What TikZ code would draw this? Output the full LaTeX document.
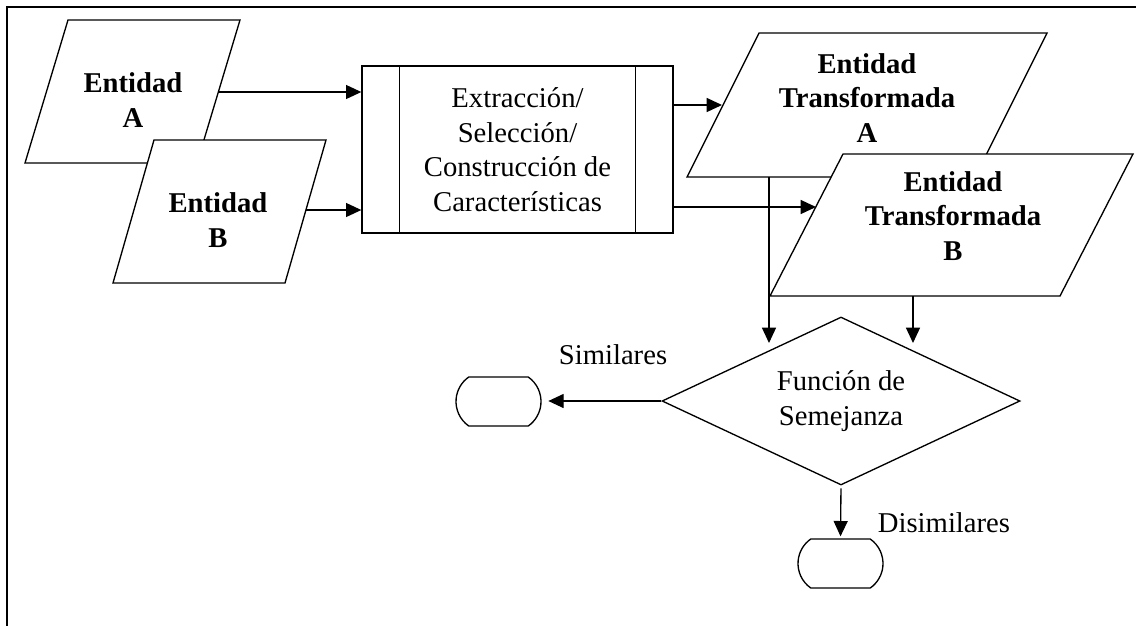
\documentclass[tikz,border=0pt]{standalone}
\usepackage{fontspec}
\setmainfont{Liberation Serif}
\usetikzlibrary{shapes.geometric,shapes.misc,arrows.meta}
\begin{document}
\begin{tikzpicture}[x=0.75pt,y=-0.75pt,
  shapeline/.style={draw=black,line width=1pt,fill=white},
  plain/.style={draw=black,line width=1pt},
  conn/.style={draw=black,line width=1pt,-{Triangle[length=11.5pt,width=10.5pt]}},
  boldtxt/.style={font=\fontsize{21.5}{26}\selectfont\bfseries,align=center,inner sep=0pt},
  normtxt/.style={font=\fontsize{21.5}{26}\selectfont,align=center,inner sep=0pt},
  terminal/.style={rounded rectangle,rounded rectangle arc length=110,draw=black,
    line width=1pt,minimum width=63.75pt,minimum height=36.75pt,inner sep=0pt},
]
\useasboundingbox (0,0) rectangle (1136,626);
% page frame (top and left edges)
\draw[line width=1.5pt] (1136,6.5) -- (6.5,6.5) -- (6.5,626);

% input entities
\draw[shapeline] (68,20) -- (240,20) -- (197,163) -- (25,163) -- cycle;
\node[boldtxt] (entA) at (133,100) {Entidad\\A};
\draw[shapeline] (154,140) -- (326,140) -- (285,283) -- (113,283) -- cycle;
\node[boldtxt] (entB) at (218,220) {Entidad\\B};

% feature process
\node[draw=black,line width=1pt,minimum width=233.25pt,minimum height=125.25pt,normtxt]
  (proc) at (517.5,149.5) {Extracción/\\Selección/\\Construcción de\\Características};
\draw[plain] ([xshift=28.5pt]proc.north west) -- ([xshift=28.5pt]proc.south west);
\draw[plain] ([xshift=-28.5pt]proc.north east) -- ([xshift=-28.5pt]proc.south east);

% transformed entities
\draw[shapeline] (759,33) -- (1047,33) -- (975,177) -- (687,177) -- cycle;
\node[boldtxt] (tA) at (867,98) {Entidad\\Transformada\\A};
\draw[shapeline] (843,154) -- (1133,154) -- (1060,296) -- (770,296) -- cycle;
\node[boldtxt] (tB) at (953,216) {Entidad\\Transformada\\B};

% similarity decision and outcomes
\node[diamond,aspect=2.13,draw=black,line width=1pt,minimum width=268.5pt,minimum height=126pt,normtxt]
  (sem) at (841,401) {Función de\\Semejanza};
\node[terminal] (sim) at (498.5,401.5) {};
\node[terminal] (dis) at (840.5,563.5) {};
\node[normtxt] (simlbl) at (613,355) {Similares};
\node[normtxt] (dislbl) at (944,523) {Disimilares};

% connector end points on the slanted edges
\coordinate (aOut) at (218,92);
\coordinate (bOut) at (306,210);
\coordinate (taIn) at (722,105);
\coordinate (tbIn) at (816,207);
\coordinate (taBot) at (769,177);
\coordinate (tbBot) at (913,296);
\coordinate (semInA) at (769,343);
\coordinate (semInB) at (913,343);

% connectors
\draw[conn] (aOut) -- (aOut -| proc.west);
\draw[conn] (bOut) -- (bOut -| proc.west);
\draw[conn] (taIn -| proc.east) -- (taIn);
\draw[conn] (tbIn -| proc.east) -- (tbIn);
\draw[conn] (taBot) -- (semInA);
\draw[conn] (tbBot) -- (semInB);
\draw[conn,shorten >=5pt] (sem.west) -- (sem.west -| sim.east);
\draw[conn,shorten <=2pt,shorten >=1.5pt] (sem.south) -- (dis.north);
\end{tikzpicture}
\end{document}
